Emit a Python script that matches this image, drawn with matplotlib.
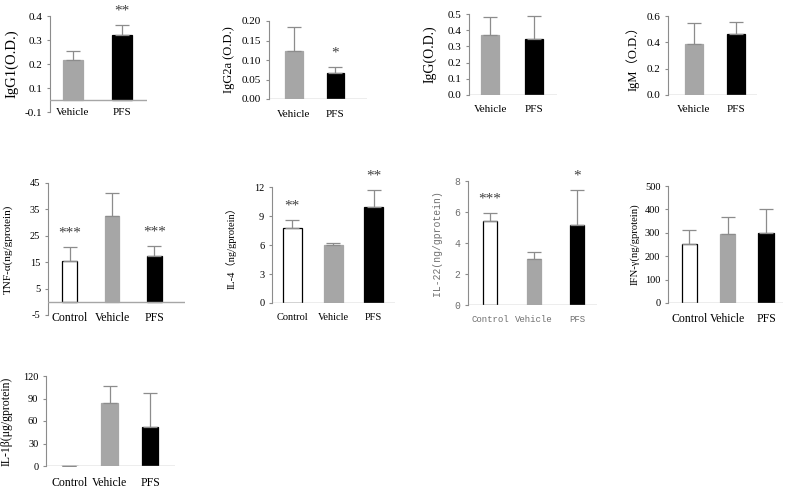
import numpy as np
import matplotlib
matplotlib.use('Agg')
import matplotlib.pyplot as plt

plt.rcParams['font.family'] = ['Liberation Serif', 'Noto Sans CJK SC', 'DejaVu Sans']
plt.rcParams['font.size'] = 7.5

W, H = 789, 493

groups2 = ['Vehicle', 'PFS']
groups3 = ['Control', 'Vehicle', 'PFS']

# serum antibodies (O.D.), mean and SD
igg1_mean = [0.218, 0.321]
igg1_sd = [0.036, 0.042]
igg1_sig = ['', '**']

igg2a_mean = [0.122, 0.066]
igg2a_sd = [0.062, 0.015]
igg2a_sig = ['', '*']

igg_mean = [0.370, 0.346]
igg_sd = [0.109, 0.144]

igm_mean = [0.391, 0.464]
igm_sd = [0.156, 0.091]

# cytokines, mean and SD
tnf_mean = [15.3, 32.4, 17.5]
tnf_sd = [5.5, 8.8, 3.7]
tnf_sig = ['***', '', '***']

il4_mean = [7.76, 6.0, 9.9]
il4_sd = [0.8, 0.2, 1.76]
il4_sig = ['**', '', '**']

il22_mean = [5.41, 2.94, 5.13]
il22_sd = [0.53, 0.45, 2.29]
il22_sig = ['***', '', '*']

ifn_mean = [254, 297, 301]
ifn_sd = [56, 69, 100]

il1b_mean = [0.5, 84.5, 52.2]
il1b_sd = [0.0, 22.1, 45.6]

colors2 = ['#a6a6a6', '#000000']
colors3 = ['#ffffff', '#a6a6a6', '#000000']
edges3 = ['#000000', '#a6a6a6', '#000000']


def panel(px, labels, mean, sd, ylabel, ylim, yticks, ylabs, xlim, width,
          sig=None, base=0.0, xpad=7, lab_dx=37, font=None, tcolor='black',
          fs=7.5, xfs=7.5, yfs=8):
    left, top, right, bottom = px
    ax = fig.add_axes([left / W, 1 - bottom / H, (right - left) / W, (bottom - top) / H])
    n = len(labels)
    x = np.arange(n)
    cols = colors2 if n == 2 else colors3
    eds = colors2 if n == 2 else edges3
    mean = np.array(mean)
    sd = np.array(sd)
    ax.bar(x, mean - base, bottom=base, width=width, color=cols,
           edgecolor=eds, linewidth=0.9, zorder=2)
    ax.errorbar(x, mean, yerr=[np.zeros(n), sd], fmt='none', ecolor='#8c8c8c',
                elinewidth=0.9, capsize=5, capthick=0.9, zorder=3)
    if sig:
        for xi, m, s, t in zip(x, mean, sd, sig):
            if t:
                ax.annotate(t, (xi, m + s), xytext=(0, 10), textcoords='offset points',
                            ha='center', va='center', fontsize=11, color='#404040')
    ax.axhline(base, color='#a6a6a6', lw=1.0, zorder=4)
    ax.set_xlim(*xlim)
    ax.set_ylim(*ylim)
    ax.set_yticks(yticks)
    ax.set_yticklabels(ylabs, fontsize=fs)
    ax.set_xticks(x)
    ax.set_xticklabels(labels, fontsize=xfs)
    for s in ['top', 'right', 'bottom']:
        ax.spines[s].set_visible(False)
    ax.spines['left'].set_color('#8c8c8c')
    ax.spines['left'].set_linewidth(0.8)
    ax.tick_params(axis='y', length=2.5, width=0.8, color='#8c8c8c', pad=3, labelcolor=tcolor)
    ax.tick_params(axis='x', length=0, pad=xpad, labelcolor=tcolor)
    ax.set_ylabel(ylabel, color=tcolor, fontsize=yfs)
    ax.yaxis.set_label_coords(-lab_dx / (right - left), 0.5)
    ax.patch.set_alpha(0)
    if font:
        for t in ax.get_xticklabels() + ax.get_yticklabels() + [ax.yaxis.label]:
            t.set_family(font)
    return ax


fig = plt.figure(figsize=(W / 100, H / 100), dpi=100)

panel((50, 16, 147, 112), groups2, igg1_mean, igg1_sd, 'IgG1(O.D.)',
      (0, 0.4), [0, 0.1, 0.2, 0.3, 0.4], ['-0.1', '0.1', '0.2', '0.3', '0.4'],
      (-0.47, 1.51), 0.41, sig=igg1_sig, base=0.05, xpad=-3, lab_dx=32,
      fs=8, xfs=8, yfs=10.5)
panel((269, 21, 367, 99), groups2, igg2a_mean, igg2a_sd, 'IgG2a (O.D.)',
      (0, 0.2), [0, 0.05, 0.1, 0.15, 0.2], ['0.00', '0.05', '0.10', '0.15', '0.20'],
      (-0.6, 1.76), 0.43, sig=igg2a_sig, xpad=8, lab_dx=34,
      fs=8, xfs=8, yfs=9)
panel((469, 14, 557, 95), groups2, igg_mean, igg_sd, 'IgG(O.D.)',
      (0, 0.5), [0, 0.1, 0.2, 0.3, 0.4, 0.5], ['0.0', '0.1', '0.2', '0.3', '0.4', '0.5'],
      (-0.48, 1.52), 0.41, xpad=7, lab_dx=32, fs=8, xfs=8, yfs=10)
panel((668, 16, 757, 95), groups2, igm_mean, igm_sd, 'IgM（O.D.）',
      (0, 0.6), [0, 0.2, 0.4, 0.6], ['0.0', '0.2', '0.4', '0.6'],
      (-0.61, 1.51), 0.43, xpad=7, lab_dx=28, fs=8, xfs=8, yfs=9)

panel((48, 183, 185, 315), groups3, tnf_mean, tnf_sd, 'TNF-α(ng/gprotein)',
      (-5, 45), [-5, 5, 15, 25, 35, 45], ['-5', '5', '15', '25', '35', '45'],
      (-0.51, 2.72), 0.35, sig=tnf_sig, xpad=-2, lab_dx=35, fs=7.5, xfs=8.5, yfs=8)
panel((272, 187, 395, 303), groups3, il4_mean, il4_sd, 'IL-4（ng/gprotein）',
      (0, 12), [0, 3, 6, 9, 12], ['0', '3', '6', '9', '12'],
      (-0.5, 2.52), 0.47, sig=il4_sig, xpad=7, lab_dx=35, fs=7.5, xfs=7.5, yfs=7.5)
panel((468, 181, 597, 305), groups3, il22_mean, il22_sd, 'IL-22(ng/gprotein)',
      (0, 8), [0, 2, 4, 6, 8], ['0', '2', '4', '6', '8'],
      (-0.5, 2.45), 0.32, sig=il22_sig, xpad=7, lab_dx=26,
      font=['Liberation Mono', 'DejaVu Sans Mono'], tcolor='#707070',
      fs=7, xfs=6.5, yfs=7)
panel((668, 186, 783, 303), groups3, ifn_mean, ifn_sd, 'IFN-γ(ng/gprotein)',
      (0, 500), [0, 100, 200, 300, 400, 500], ['0', '100', '200', '300', '400', '500'],
      (-0.56, 2.44), 0.4, xpad=7, lab_dx=28, fs=7.5, xfs=8.5, yfs=7.7)

panel((46, 376, 175, 466), groups3, il1b_mean, il1b_sd, 'IL-1β(μg/gprotein)',
      (0, 120), [0, 30, 60, 90, 120], ['0', '30', '60', '90', '120'],
      (-0.58, 2.62), 0.42, xpad=8, lab_dx=33, fs=7.5, xfs=8.5, yfs=8.5)

fig.savefig('out.png', dpi=100)
